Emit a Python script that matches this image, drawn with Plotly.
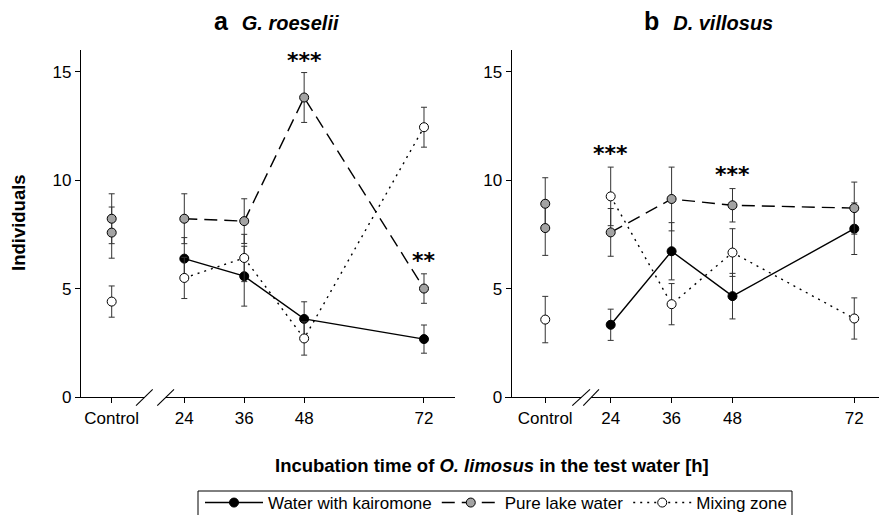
import plotly.graph_objects as go

# The page body adds an 8px margin; lay the figure out in window pixels.
OX, OY = 8, 8
WIN_W, WIN_H = 887, 515
W, H = WIN_W - OX, WIN_H - OY


def px(x):
    return (x - OX) / W


def py(y):
    return 1 - (y - OY) / H


# ---------------- data ----------------
times = [24, 36, 48, 72]
tick_labels = ["Control", "24", "36", "48", "72"]

# panel a: G. roeselii
kair_a = [6.38, 5.57, 3.60, 2.67]
kair_a_err = [0.97, 1.38, 0.79, 0.65]
lake_a = [8.22, 8.11, 13.81, 5.00]
lake_a_err = [1.15, 1.03, 1.15, 0.68]
mix_a = [5.49, 6.41, 2.70, 12.44]
mix_a_err = [0.95, 1.09, 0.77, 0.92]
ctrl_lake_a = [8.22, 7.58]
ctrl_lake_a_err = [1.15, 1.18]
ctrl_mix_a = [4.40]
ctrl_mix_a_err = [0.72]

# panel b: D. villosus
kair_b = [3.33, 6.72, 4.65, 7.76]
kair_b_err = [0.72, 1.32, 1.05, 1.19]
lake_b = [7.59, 9.13, 8.84, 8.71]
lake_b_err = [1.10, 1.47, 0.77, 1.20]
mix_b = [9.25, 4.28, 6.66, 3.62]
mix_b_err = [1.35, 0.95, 1.10, 0.95]
ctrl_lake_b = [8.91, 7.79]
ctrl_lake_b_err = [1.20, 1.26]
ctrl_mix_b = [3.57]
ctrl_mix_b_err = [1.07]

# significance marks
stars_a_x = [48, 72]
stars_a_y = [15.6, 6.4]
stars_a_txt = ["***", "**"]
stars_b_x = [24, 48]
stars_b_y = [11.33, 10.37]
stars_b_txt = ["***", "***"]

# control position on the numeric axis (left of the break)
ctrl_pos_a = 9.46
ctrl_pos_b = 11.1

FONT = "Liberation Sans, Arial, sans-serif"
GRAY = "#a3a3a3"
ERRC = "#333333"

fig = go.Figure()


def add_series(x, y, err, xa, ya, fill, dash, name, show, mode="lines+markers"):
    fig.add_trace(go.Scatter(
        x=x, y=y, xaxis=xa, yaxis=ya, mode=mode, name=name, showlegend=show,
        line=dict(color="black", width=1.4, dash=dash),
        marker=dict(size=9, color=fill, line=dict(color="black", width=1)),
        error_y=dict(type="data", array=err, visible=True, color=ERRC,
                     thickness=1, width=3),
    ))


series_specs = [
    ("Water with kairomone", "black", "solid"),
    ("Pure lake water", GRAY, "13px,7px"),
    ("Mixing zone", "white", "2px,5px"),
]

# panel a
add_series([ctrl_pos_a] * len(ctrl_lake_a), ctrl_lake_a, ctrl_lake_a_err, "x", "y", GRAY, "solid", "c", False, "markers")
add_series([ctrl_pos_a], ctrl_mix_a, ctrl_mix_a_err, "x", "y", "white", "solid", "c", False, "markers")
for (name, fill, dash), vals, errs in zip(series_specs, [kair_a, lake_a, mix_a],
                                         [kair_a_err, lake_a_err, mix_a_err]):
    add_series(times, vals, errs, "x", "y", fill, dash, name, True)

# panel b
add_series([ctrl_pos_b] * len(ctrl_lake_b), ctrl_lake_b, ctrl_lake_b_err, "x2", "y2", GRAY, "solid", "c", False, "markers")
add_series([ctrl_pos_b], ctrl_mix_b, ctrl_mix_b_err, "x2", "y2", "white", "solid", "c", False, "markers")
for (name, fill, dash), vals, errs in zip(series_specs, [kair_b, lake_b, mix_b],
                                         [kair_b_err, lake_b_err, mix_b_err]):
    add_series(times, vals, errs, "x2", "y2", fill, dash, name, False)

tickfont = dict(family=FONT, size=17, color="black")
common_x = dict(showline=True, linecolor="black", linewidth=1.2, ticks="outside",
                ticklen=5, tickcolor="black", tickwidth=1.2, showgrid=False,
                zeroline=False, tickfont=tickfont, tickmode="array",
                ticktext=tick_labels)
common_y = dict(showline=True, linecolor="black", linewidth=1.2, ticks="outside",
                ticklen=5, tickcolor="black", tickwidth=1.2, showgrid=False,
                zeroline=False, tickfont=tickfont, range=[0, 16],
                tickvals=[0, 5, 10, 15], anchor="free",
                domain=[py(397), py(50)])

fig.update_layout(
    width=W, height=H, margin=dict(l=0, r=0, t=0, b=0, autoexpand=False),
    plot_bgcolor="white", paper_bgcolor="white",
    font=dict(family=FONT, color="black"),
    xaxis=dict(common_x, domain=[px(75), px(455)], range=[2.11, 78.21],
               tickvals=[ctrl_pos_a] + times),
    yaxis=dict(common_y, position=px(80)),
    xaxis2=dict(common_x, domain=[px(505), min(1.0, px(883))], range=[3.17, 77.66],
                tickvals=[ctrl_pos_b] + times, anchor="y2"),
    yaxis2=dict(common_y, position=px(510.7)),
    legend=dict(orientation="h", x=px(200), xanchor="left", y=py(503),
                yanchor="middle", borderwidth=0, itemwidth=58,
                font=dict(family=FONT, size=17, color="black"),
                bgcolor="rgba(0,0,0,0)"),
)

# axis breaks + legend frame
shapes = []
for xa, ya, gap, slashes in [
    ("x", "y", (16.0, 20.28), [(14.33, 17.67), (18.59, 21.94)]),
    ("x2", "y2", (18.19, 20.16), [(16.43, 19.92), (18.6, 21.69)]),
]:
    shapes.append(dict(type="line", xref=xa, yref=ya + " domain", x0=gap[0], x1=gap[1],
                       y0=0, y1=0, line=dict(color="white", width=3), layer="above"))
    for s0, s1 in slashes:
        shapes.append(dict(type="line", xref=xa, yref=ya + " domain", x0=s0, x1=s1,
                           y0=-8.7 / 347, y1=7.7 / 347,
                           line=dict(color="black", width=1.1), layer="above"))
shapes.append(dict(type="rect", xref="paper", yref="paper", x0=px(198), x1=px(792),
                   y0=py(540), y1=py(491), line=dict(color="black", width=1),
                   layer="below"))
fig.update_layout(shapes=shapes)

ann = []
for xs, ys, ts, xa, ya in [(stars_a_x, stars_a_y, stars_a_txt, "x", "y"),
                           (stars_b_x, stars_b_y, stars_b_txt, "x2", "y2")]:
    for x, y, t in zip(xs, ys, ts):
        ann.append(dict(x=x, y=y, xref=xa, yref=ya, text="<b>%s</b>" % t, showarrow=False,
                        font=dict(family="DejaVu Sans", size=22, color="black"),
                        xanchor="center", yanchor="middle", yshift=-2))

for lx, letter, species in [(211.7, "a", "G. roeselii"), (641.7, "b", "D. villosus")]:
    ann.append(dict(x=px(lx), y=py(21), xref="paper", yref="paper", showarrow=False,
                    text="<b>%s</b>  <b><i><span style='font-size:20px'>%s</span></i></b>" % (letter, species),
                    font=dict(family=FONT, size=25, color="black"),
                    xanchor="left", yanchor="middle"))
ann.append(dict(x=px(19), y=py(223), xref="paper", yref="paper", showarrow=False,
                text="<b>Individuals</b>", textangle=-90,
                font=dict(family=FONT, size=18.5, color="black"),
                xanchor="center", yanchor="middle"))
ann.append(dict(x=px(491.5), y=py(465), xref="paper", yref="paper", showarrow=False,
                text="<b>Incubation time of <i>O. limosus</i> in the test water [h]</b>",
                font=dict(family=FONT, size=18.5, color="black"),
                xanchor="center", yanchor="middle"))
fig.update_layout(annotations=ann)

fig.write_html("out.html")
